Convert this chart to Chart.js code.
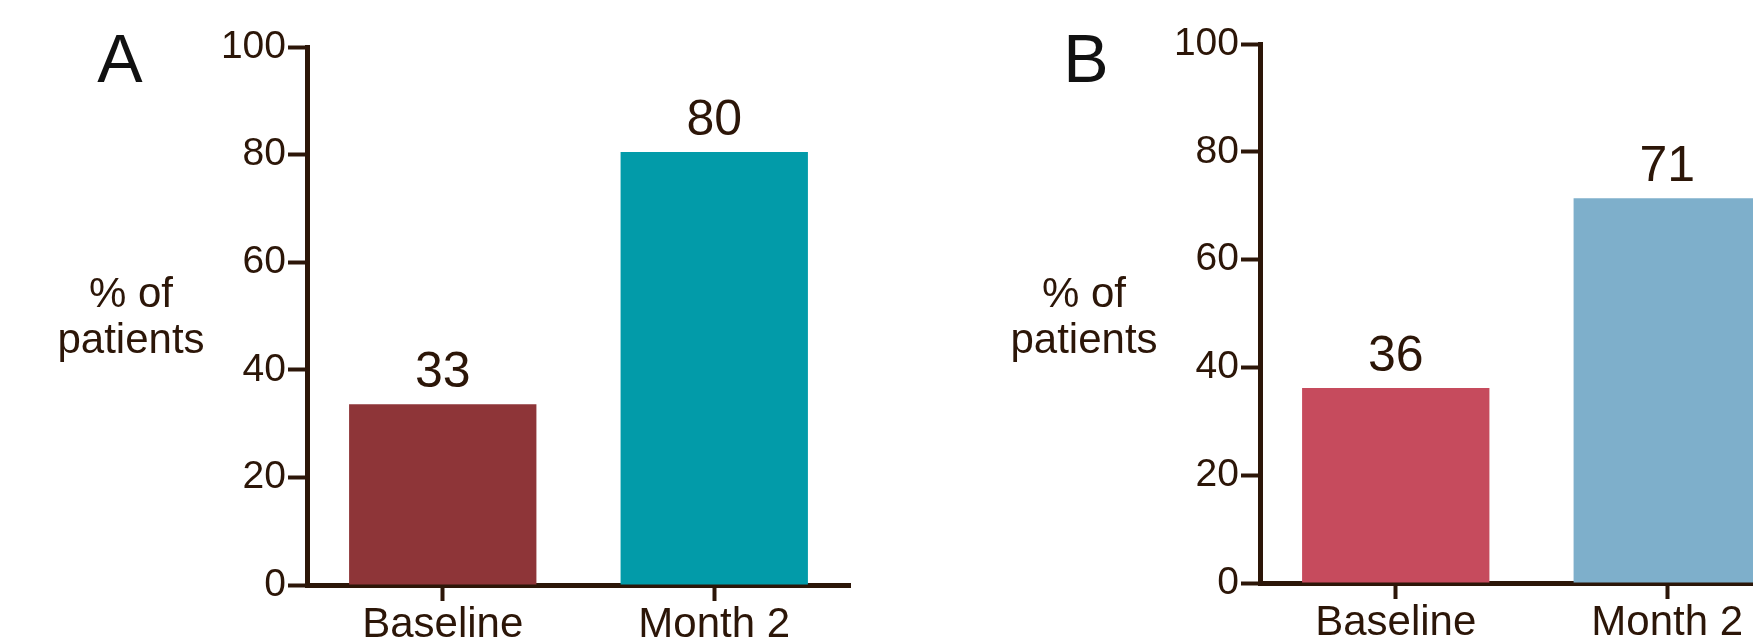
<!DOCTYPE html>
<html>
<head>
<meta charset="utf-8">
<script src="https://cdn.jsdelivr.net/npm/chart.js@4"></script>
<style>
  html, body { margin: 0; padding: 0; background: #fff; overflow: hidden; }
  #wrap { position: relative; width: 1753px; height: 641px; overflow: hidden; }
  #wrap canvas { position: absolute; top: 0; }
</style>
</head>
<body>
<div id="wrap">
  <canvas id="chartA" width="953" height="641" style="left:0px"></canvas>
  <canvas id="chartB" width="953" height="641" style="left:953px"></canvas>
</div>
<script>
// data
const categories = ['Baseline', 'Month 2'];
const yTicks = [0, 20, 40, 60, 80, 100];
const valuesA = [33.6, 80.5];
const valuesB = [36.2, 71.4];
const valueLabelsA = ['33', '80'];
const valueLabelsB = ['36', '71'];
const yTitleLines = ['% of', 'patients'];

const ink = '#2c1608';
const fontFamily = '"Liberation Sans", Arial, Helvetica, sans-serif';
Chart.defaults.font.family = fontFamily;

// draws the value labels, the panel letter and the horizontal y title
const panelText = {
    id: 'panelText',
    afterDatasetsDraw(chart, args, opts) {
        const ctx = chart.ctx;
        ctx.save();
        ctx.textAlign = 'center';
        ctx.textBaseline = 'alphabetic';

        ctx.fillStyle = ink;
        ctx.font = '50px ' + fontFamily;
        chart.getDatasetMeta(0).data.forEach(function(bar, i) {
            ctx.fillText(opts.valueLabels[i], bar.x, bar.y - 17);
        });

        ctx.font = '42px ' + fontFamily;
        ctx.fillText(yTitleLines[0], 131, 307);
        ctx.fillText(yTitleLines[1], 131, 353);

        ctx.fillStyle = '#111';
        ctx.font = '68px ' + fontFamily;
        ctx.fillText(opts.letter, opts.letterX, 82);
        ctx.restore();
    }
};

function makePanel(id, values, valueLabels, colors, letter, letterX, top, bottom) {
    return new Chart(document.getElementById(id), {
        type: 'bar',
        data: {
            labels: categories,
            datasets: [{
                data: values,
                backgroundColor: colors,
                borderWidth: 0,
                barPercentage: 0.69,
                categoryPercentage: 1.0
            }]
        },
        options: {
            responsive: false,
            animation: false,
            layout: { padding: { top: top, right: 103, bottom: 0, left: 0 } },
            plugins: {
                legend: { display: false },
                tooltip: { enabled: false },
                panelText: { valueLabels: valueLabels, letter: letter, letterX: letterX }
            },
            scales: {
                x: {
                    offset: true,
                    grid: {
                        drawOnChartArea: false,
                        offset: false,
                        tickLength: 16,
                        tickWidth: 4,
                        tickColor: ink
                    },
                    border: { display: true, color: ink, width: 5 },
                    ticks: {
                        color: ink,
                        font: { size: 42 },
                        padding: -1,
                        maxRotation: 0
                    },
                    afterFit: function(scale) { scale.height = 641 - bottom; }
                },
                y: {
                    min: yTicks[0],
                    max: yTicks[yTicks.length - 1],
                    grid: {
                        drawOnChartArea: false,
                        tickLength: 19,
                        tickWidth: 4,
                        tickColor: ink
                    },
                    border: { display: true, color: ink, width: 5 },
                    ticks: {
                        stepSize: yTicks[1] - yTicks[0],
                        color: ink,
                        font: { size: 39 },
                        padding: 2
                    },
                    afterFit: function(scale) { scale.width = 307; }
                }
            }
        },
        plugins: [panelText]
    });
}

makePanel('chartA', valuesA, valueLabelsA, ['#8e3538', '#029ba9'], 'A', 120, 47, 585);
makePanel('chartB', valuesB, valueLabelsB, ['#c64b5d', '#7eafcb'], 'B', 133, 44, 583);
</script>
</body>
</html>
